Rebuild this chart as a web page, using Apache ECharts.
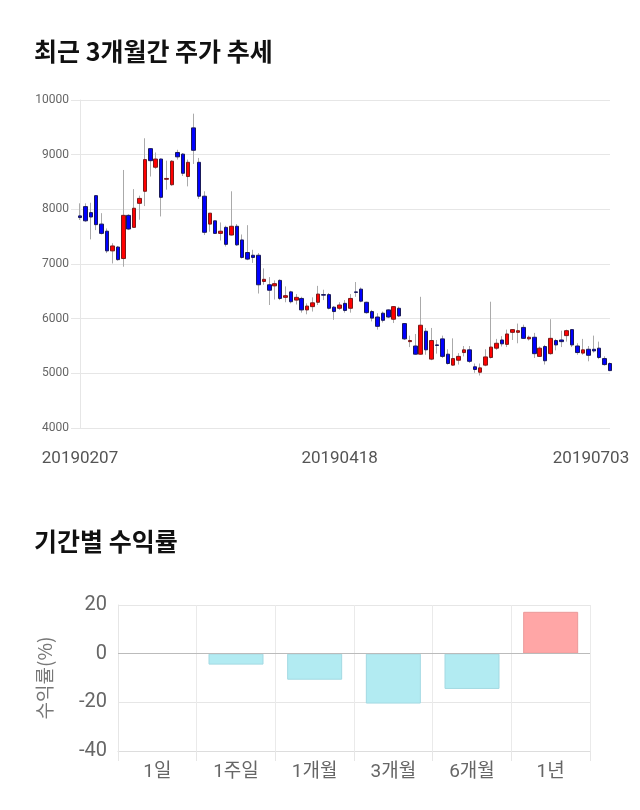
<!DOCTYPE html>
<html>
<head>
<meta charset="utf-8">
<script src="https://cdn.jsdelivr.net/npm/echarts@6/dist/echarts.min.js"></script>
<style>html,body{margin:0;padding:0;background:#fff}#c{width:640px;height:810px}</style>
</head>
<body>
<div id="c"></div>
<script>
var dates = ['20190207','20190208','20190211','20190212','20190213','20190214','20190215','20190218','20190219','20190220','20190221','20190222','20190225','20190226','20190227','20190228',
'20190304','20190305','20190306','20190307','20190308','20190311','20190312','20190313','20190315','20190318','20190319','20190320','20190321','20190322','20190325','20190326','20190327','20190328','20190329',
'20190401','20190402','20190403','20190404','20190405','20190408','20190409','20190410','20190411','20190412','20190415','20190416','20190417','20190418',
'20190419','20190422','20190423','20190424','20190425','20190426','20190429','20190430',
'20190502','20190503','20190507','20190508','20190509','20190510','20190513','20190514','20190515','20190516','20190517','20190520','20190521','20190522','20190523','20190524','20190527','20190528','20190529','20190530','20190531',
'20190604','20190605','20190607','20190610','20190611','20190612','20190613','20190614','20190617','20190618','20190619','20190620','20190621','20190624','20190625','20190626','20190627','20190628',
'20190701','20190702','20190703'];
var openP  = [7880,8050,7940,8250,7730,7600,7240,7310,7100,7890,7670,8110,8330,9110,8770,8920,8550,8450,9040,9010,8600,9490,8860,8240,7730,7790,7560,7670,7530,7690,7440,7210,7160,7160,6680,6620,6600,6700,6390,6490,6340,6370,6160,6220,6300,6440,6440,6210,6190,6280,6190,6490,6540,6300,6130,6030,6100,6160,5990,6190,5910,5580,5500,5350,5770,5260,5520,5630,5350,5150,5240,5380,5430,5120,5020,5150,5290,5460,5610,5530,5750,5750,5840,5630,5660,5310,5490,5360,5600,5610,5690,5800,5500,5370,5440,5440,5460,5270,5180];
var closeP = [7850,7790,7860,7720,7560,7240,7330,7080,7890,7640,8020,8200,8910,8890,8920,8220,8565,8880,8960,8660,8860,9080,8240,7580,7930,7560,7600,7360,7690,7350,7120,7090,7120,6620,6720,6520,6640,6370,6420,6310,6390,6160,6230,6290,6450,6430,6190,6130,6250,6150,6370,6480,6320,6110,6010,5860,5970,6030,6220,6050,5630,5600,5350,5880,5430,5600,5510,5310,5180,5270,5310,5430,5220,5070,5100,5300,5480,5550,5540,5720,5800,5780,5640,5660,5360,5460,5230,5640,5520,5580,5780,5520,5380,5430,5330,5410,5290,5160,5050];
var lowP   = [7805,7770,7450,7620,7540,7200,7010,7060,6950,7620,7670,7810,8060,8600,8740,7870,8360,8430,8910,8610,8420,8830,8190,7530,7590,7550,7430,7320,7520,7330,7100,7070,7020,6460,6620,6250,6350,6340,6300,6280,6260,6110,6080,6130,6250,6340,6170,5980,6160,6110,6110,6400,6300,6090,5950,5800,5930,6010,5920,6030,5610,5480,5340,5340,5340,5240,5360,5280,5160,5140,5160,5310,5190,5010,4960,5130,5270,5430,5490,5480,5610,5550,5630,5600,5280,5300,5160,5340,5420,5480,5580,5480,5340,5340,5220,5380,5260,5140,5040];
var highP  = [8110,8110,8120,8260,7930,7650,7380,7330,8720,7910,8370,8250,9300,9120,9040,8930,8890,8900,9090,9030,8910,9750,8940,8330,7930,7790,7760,7700,8330,7730,7540,7710,7260,7200,6920,6760,6700,6720,6590,6510,6450,6400,6280,6390,6600,6530,6470,6230,6300,6340,6450,6670,6570,6310,6160,6100,6130,6170,6230,6220,5920,5690,5720,6400,5830,5830,5610,5690,5440,5640,5370,5500,5500,5180,5180,5440,6310,5630,5680,5800,5810,5910,5890,5690,5740,5490,5520,5990,5630,5780,5800,5810,5550,5630,5500,5690,5580,5310,5200];
var priceTicks = [4000, 5000, 6000, 7000, 8000, 9000, 10000];
var shownDateIdx = [0, 48, 98];

var periods = ['1일','1주일','1개월','3개월','6개월','1년'];
var returns = [0, -4.5, -10.7, -20.5, -14.5, 17.2];

var FONT = 'Roboto, "Noto Sans CJK KR", sans-serif';
var wickData = dates.map(function(d, i){ return [openP[i], closeP[i], lowP[i], highP[i]]; });
var bodyData = dates.map(function(d, i){ return [openP[i], closeP[i], Math.min(openP[i], closeP[i]), Math.max(openP[i], closeP[i])]; });
var lastIdx = dates.length - 1;

var chart = echarts.init(document.getElementById('c'), null, {renderer: 'canvas'});
chart.setOption({
  animation: false,
  backgroundColor: '#fff',
  textStyle: {fontFamily: FONT},
  title: [
    {text: '최근 3개월간 주가 추세', left: 29, top: 34, textStyle: {fontSize: 25, fontWeight: 'bold', color: '#111', fontFamily: '"Noto Sans CJK KR", sans-serif'}},
    {text: '기간별 수익률', left: 29, top: 524, textStyle: {fontSize: 25, fontWeight: 'bold', color: '#111', fontFamily: '"Noto Sans CJK KR", sans-serif'}}
  ],
  grid: [
    {left: 80, right: 30, top: 100, height: 328},
    {left: 118, right: 50, top: 605, height: 146}
  ],
  xAxis: [
    {
      type: 'category', gridIndex: 0, data: dates, boundaryGap: false,
      axisLine: {show: false}, axisTick: {show: false}, splitLine: {show: false},
      axisLabel: {
        color: '#555', fontSize: 17, margin: 22, fontFamily: FONT,
        interval: function(i){ return shownDateIdx.indexOf(i) >= 0; },
        formatter: function(v, i){ return i === lastIdx ? '{r|' + v + '}' : v; },
        rich: {r: {color: '#555', fontSize: 17, fontFamily: FONT, padding: [0, 38, 0, 0]}}
      }
    },
    {
      type: 'category', gridIndex: 1, data: periods, boundaryGap: true,
      axisLine: {show: true, onZero: false, lineStyle: {color: '#ddd'}},
      axisTick: {show: true, length: 10, lineStyle: {color: '#e6e6e6'}},
      splitLine: {show: true, lineStyle: {color: '#eaeaea'}},
      axisLabel: {color: '#666', fontSize: 19, margin: 12, fontFamily: FONT}
    }
  ],
  yAxis: [
    {
      type: 'value', gridIndex: 0, min: priceTicks[0], max: priceTicks[priceTicks.length - 1], interval: 1000,
      axisLine: {show: true, lineStyle: {color: '#e6e6e6'}},
      axisTick: {show: true, length: 9, lineStyle: {color: '#e6e6e6'}},
      splitLine: {show: true, lineStyle: {color: '#e6e6e6'}},
      axisLabel: {color: '#666', fontSize: 12, margin: 11, fontFamily: FONT, formatter: function(v){ return String(v); }}
    },
    {
      type: 'value', gridIndex: 1, min: -40, max: 20, interval: 20,
      name: '수익률(%)', nameLocation: 'middle', nameGap: 64, nameRotate: 90,
      nameTextStyle: {color: '#777', fontSize: 19, fontFamily: '"Noto Sans CJK KR", sans-serif'},
      axisLine: {show: true, lineStyle: {color: '#e6e6e6'}},
      axisTick: {show: false},
      splitLine: {show: true, lineStyle: {color: '#e6e6e6'}},
      axisLabel: {color: '#666', fontSize: 20, margin: 11, fontFamily: FONT}
    }
  ],
  series: [
    {
      type: 'candlestick', xAxisIndex: 0, yAxisIndex: 0, data: wickData, barWidth: 1,
      itemStyle: {color: '#aaa', color0: '#aaa', borderColor: '#aaa', borderColor0: '#aaa', borderWidth: 1},
      silent: true
    },
    {
      type: 'candlestick', xAxisIndex: 0, yAxisIndex: 0, data: bodyData, barWidth: 4,
      itemStyle: {color: '#ff0000', color0: '#0000ff', borderColor: '#7a1a1a', borderColor0: '#1a1a5a', borderWidth: 1},
      silent: true
    },
    {
      type: 'bar', xAxisIndex: 1, yAxisIndex: 1, barWidth: 55,
      data: returns.map(function(v){
        if (v === 0) return {value: v, itemStyle: {color: 'rgba(0,0,0,0)', borderWidth: 0}};
        return {value: v, itemStyle: v > 0 ? {color: '#ffa6a6', borderColor: '#eb9a9a', borderWidth: 1} : {color: '#b2ebf2', borderColor: '#a3d9e2', borderWidth: 1}};
      }),
      markLine: {silent: true, symbol: 'none', label: {show: false}, lineStyle: {color: '#bbb', type: 'solid', width: 1}, data: [{yAxis: 0}]}
    }
  ]
});
</script>
</body>
</html>
